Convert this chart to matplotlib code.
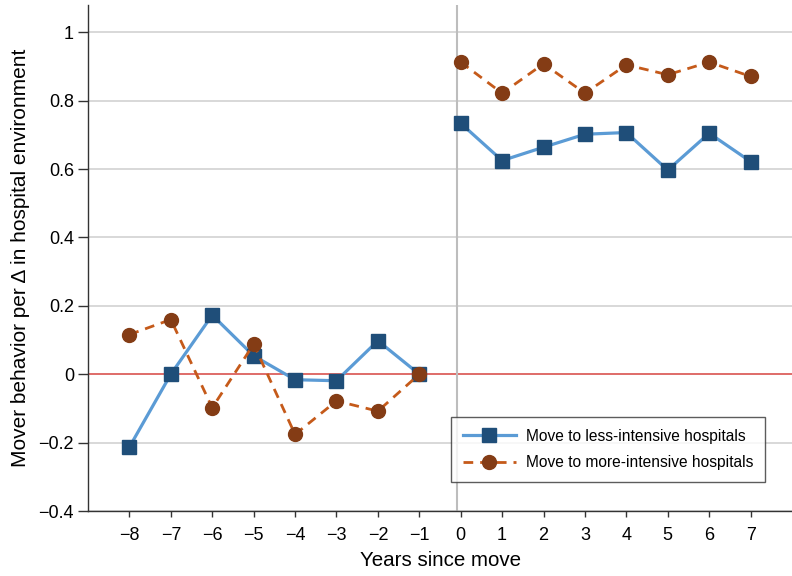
import matplotlib
matplotlib.use("Agg")
import matplotlib.pyplot as plt

plt.rcParams['font.family'] = ['Liberation Sans', 'DejaVu Sans']
plt.rcParams['axes.unicode_minus'] = True

years = [-8, -7, -6, -5, -4, -3, -2, -1, 0, 1, 2, 3, 4, 5, 6, 7]
less_intensive = [-0.213, 0.0, 0.173, 0.054, -0.016, -0.019, 0.098, 0.0,
                  0.734, 0.625, 0.664, 0.702, 0.707, 0.597, 0.705, 0.622]
more_intensive = [0.116, 0.160, -0.098, 0.088, -0.176, -0.078, -0.108, 0.0,
                  0.913, 0.822, 0.908, 0.822, 0.905, 0.876, 0.913, 0.871]
yticks = [-0.4, -0.2, 0, 0.2, 0.4, 0.6, 0.8, 1]
ytick_labels = ['\u22120.4', '\u22120.2', '0', '0.2', '0.4', '0.6', '0.8', '1']
xtick_labels = [str(v).replace('-', '\u2212') for v in years]

fig = plt.figure(figsize=(7.92, 5.76), dpi=100)
ax = fig.add_axes([88 / 792, 65 / 576, 704 / 792, 506 / 576])

for yv in yticks:
    if yv != 0:
        ax.axhline(yv, color='#d6d6d6', lw=1.3, zorder=0)
ax.axhline(0, color='#d9534f', lw=1.2, zorder=1)
ax.axvline(-0.1, color='#bdbdbd', lw=1.5, zorder=1)

pre = slice(0, 8)
post = slice(8, 16)
blue_line = '#5b9bd5'
blue_mk = '#1f4e79'
or_line = '#c55a1a'
or_mk = '#843c15'

for s in (pre, post):
    ax.plot(years[s], less_intensive[s], color=blue_line, lw=2.3, zorder=3,
            marker='s', ms=9.5, mfc=blue_mk, mec=blue_mk,
            label='Move to less-intensive hospitals' if s == pre else None)
    ax.plot(years[s], more_intensive[s], color=or_line, lw=2.0, ls=(0, (3.5, 2.5)), zorder=4,
            marker='o', ms=10, mfc=or_mk, mec=or_mk,
            label='Move to more-intensive hospitals' if s == pre else None)

ax.set_xlim(-9, 8)
ax.set_ylim(-0.4, 1.08)
ax.set_yticks(yticks)
ax.set_yticklabels(ytick_labels, fontsize=13)
ax.set_xticks(years)
ax.set_xticklabels(xtick_labels, fontsize=13)
ax.tick_params(axis='y', direction='out', length=7, width=1, color='#333333', pad=3)
ax.tick_params(axis='x', direction='out', length=4.5, width=1, color='#333333', pad=7)

for sp in ('top', 'right'):
    ax.spines[sp].set_visible(False)
for sp in ('left', 'bottom'):
    ax.spines[sp].set_color('#333333')
    ax.spines[sp].set_linewidth(1.0)

ax.set_xlabel('Years since move', fontsize=14.8, labelpad=5)
ax.set_ylabel('Mover behavior per \u0394 in hospital environment', fontsize=15, labelpad=6)

leg = ax.legend(loc='lower left', bbox_to_anchor=(0.5156, 0.057), fontsize=11.2,
                frameon=True, fancybox=False, edgecolor='#333333', borderaxespad=0,
                handlelength=3.4, borderpad=0.75, labelspacing=0.75, handletextpad=0.7)
leg.get_frame().set_linewidth(1.0)

fig.savefig('out.png', dpi=100)
